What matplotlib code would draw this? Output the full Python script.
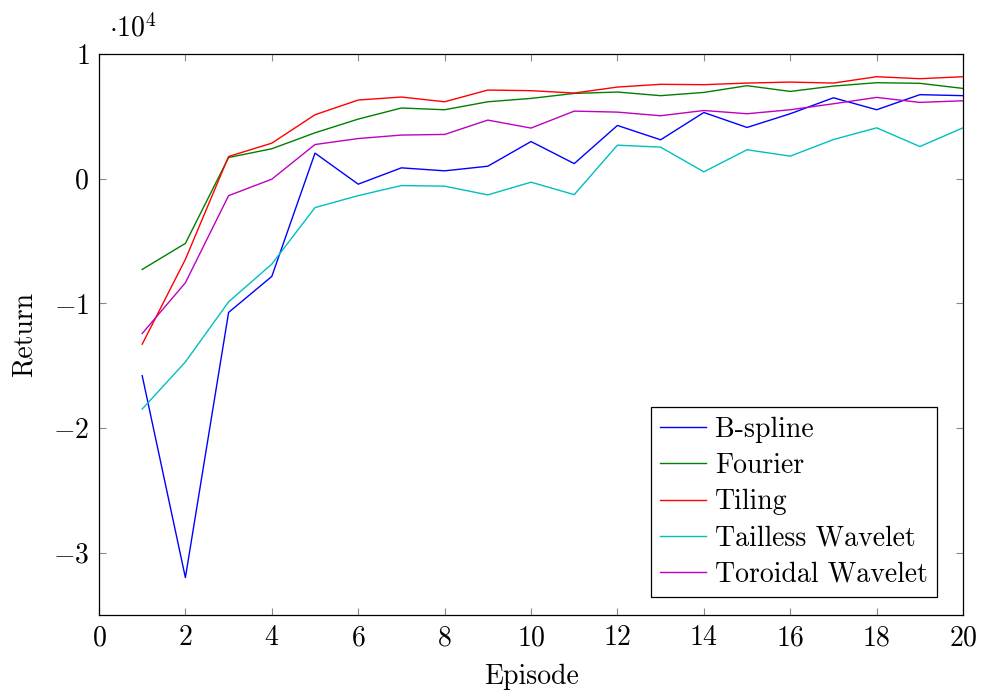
import numpy as np
import matplotlib.pyplot as plt
from matplotlib.ticker import FuncFormatter

plt.rcParams['font.family'] = 'serif'
plt.rcParams['font.serif'] = ['cmr10']
plt.rcParams['mathtext.fontset'] = 'cm'
plt.rcParams['axes.formatter.use_mathtext'] = True

episodes = np.arange(1, 21)
bspline = [-15800, -32000, -10730, -7840, 2050, -440, 870, 630, 1000, 2980,
           1210, 4270, 3120, 5310, 4110, 5210, 6490, 5530, 6740, 6660]
fourier = [-7280, -5190, 1700, 2400, 3680, 4780, 5670, 5530, 6170, 6440,
           6840, 6950, 6660, 6920, 7460, 7000, 7430, 7700, 7650, 7240]
tiling = [-13280, -6470, 1780, 2850, 5130, 6310, 6550, 6170, 7110, 7060,
          6870, 7350, 7570, 7540, 7670, 7750, 7670, 8180, 8020, 8180]
tailless = [-18480, -14700, -9880, -6850, -2320, -1360, -550, -600, -1300, -280,
            -1280, 2690, 2530, 550, 2320, 1810, 3140, 4080, 2580, 4080]
toroidal = [-12420, -8350, -1360, -40, 2740, 3220, 3500, 3550, 4700, 4060,
            5420, 5340, 5050, 5470, 5210, 5530, 6010, 6520, 6120, 6250]

fs = 20
fig = plt.figure(figsize=(9.81, 6.9), dpi=100)
ax = fig.add_axes([0.1009, 0.1087, 0.8808, 0.813])
lw = 1.0
ax.plot(episodes, bspline, color='blue', lw=lw, label='B-spline')
ax.plot(episodes, fourier, color='green', lw=lw, label='Fourier')
ax.plot(episodes, tiling, color='red', lw=lw, label='Tiling')
ax.plot(episodes, tailless, color='c', lw=lw, label='Tailless Wavelet')
ax.plot(episodes, toroidal, color='m', lw=lw, label='Toroidal Wavelet')

ax.set_xlim(0, 20)
ax.set_ylim(-35000, 10000)
ax.set_xticks(range(0, 21, 2))
ax.set_yticks([-30000, -20000, -10000, 0, 10000])
ax.yaxis.set_major_formatter(FuncFormatter(lambda v, p: '$%d$' % round(v / 1e4)))
ax.xaxis.set_major_formatter(FuncFormatter(lambda v, p: '$%d$' % v))
ax.tick_params(direction='in', length=5, width=0.8, color='#888888',
               top=True, right=True, labelsize=fs, pad=7)
for s in ax.spines.values():
    s.set_linewidth(0.9)

ax.set_xlabel('Episode', fontsize=fs, labelpad=9)
ax.set_ylabel('Return', fontsize=fs, labelpad=11)
ax.text(0.012, 1.02, r'$\cdot 10^4$', transform=ax.transAxes, fontsize=fs,
        va='bottom', ha='left')

leg = ax.legend(loc='lower right', bbox_to_anchor=(0.970, 0.032), fontsize=fs,
                fancybox=False, edgecolor='black', framealpha=1,
                handlelength=1.65, handletextpad=0.3, borderpad=0.35,
                labelspacing=0.35, borderaxespad=0)
leg.get_frame().set_linewidth(0.9)

fig.savefig('out.png', dpi=100)
